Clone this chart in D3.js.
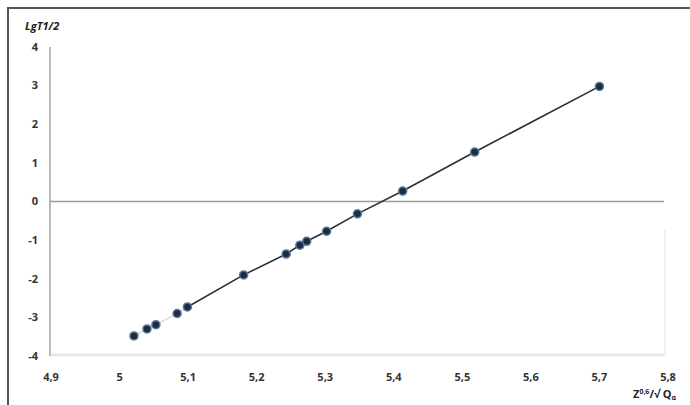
<!DOCTYPE html>
<meta charset="utf-8">
<style>
body { margin: 0; background: #fff; }
svg { font-family: "Open Sans", "Liberation Sans", sans-serif; font-weight: bold; }
.tick-label { font-size: 11px; fill: #333; }
</style>
<body>
<script src="https://cdn.jsdelivr.net/npm/d3@7"></script>
<script>

// data
var zValues = [5.021, 5.040, 5.053, 5.084, 5.099, 5.181, 5.243, 5.263, 5.273, 5.302, 5.347, 5.413, 5.518, 5.700];
var lgT     = [-3.48, -3.30, -3.19, -2.90, -2.73, -1.90, -1.36, -1.13, -1.03, -0.77, -0.32, 0.27, 1.28, 2.98];
var xTicks  = [4.9, 5.0, 5.1, 5.2, 5.3, 5.4, 5.5, 5.6, 5.7, 5.8];
var yTicks  = [-4, -3, -2, -1, 0, 1, 2, 3, 4];

var points = zValues.map(function(d, i) { return {x: d, y: lgT[i]}; });

var width = 690, height = 405;

var x = d3.scaleLinear().domain([4.9, 5.8]).range([51, 668]);
var y = d3.scaleLinear().domain([-4, 4]).range([356, 47]);

var svg = d3.select("body").append("svg")
    .attr("width", width)
    .attr("height", height);

// outer frame (top and left visible)
svg.append("path")
    .attr("d", "M8," + height + "V8H" + width)
    .attr("fill", "none")
    .attr("stroke", "#555")
    .attr("stroke-width", 2);

// soft plot area shadow, bottom and right
svg.append("path")
    .attr("d", "M" + x(4.9) + "," + (y(-4) - 1) + "H665")
    .attr("fill", "none")
    .attr("stroke", "#e8e8e8")
    .attr("stroke-width", 3);
svg.append("line")
    .attr("x1", 665).attr("x2", 665)
    .attr("y1", 230).attr("y2", y(-4))
    .attr("stroke", "#f1f1f1")
    .attr("stroke-width", 2);

// y axis line
svg.append("line")
    .attr("x1", 50).attr("x2", 50)
    .attr("y1", y(4)).attr("y2", y(-4))
    .attr("stroke", "#8a8a8a")
    .attr("stroke-width", 1.2);

// x axis at zero
svg.append("line")
    .attr("x1", 50).attr("x2", 664)
    .attr("y1", y(0)).attr("y2", y(0))
    .attr("stroke", "#9a9a9a")
    .attr("stroke-width", 1.5);

// y tick labels
svg.selectAll(".ylab")
    .data(yTicks)
  .enter().append("text")
    .attr("class", "tick-label")
    .attr("x", 38)
    .attr("y", function(d) { return y(d); })
    .attr("dy", "0.35em")
    .attr("text-anchor", "end")
    .text(function(d) { return d < 0 ? "-" + Math.abs(d) : d; });

// x tick labels (comma decimals)
svg.selectAll(".xlab")
    .data(xTicks)
  .enter().append("text")
    .attr("class", "tick-label")
    .attr("x", function(d) { return x(d); })
    .attr("y", 377)
    .attr("dy", "0.35em")
    .attr("text-anchor", "middle")
    .text(function(d) { return d3.format(".1~f")(d).replace(".", ","); });

// axis titles
svg.append("text")
    .attr("x", 25)
    .attr("y", 30)
    .style("font-size", "11px")
    .style("font-style", "italic")
    .attr("fill", "#222")
    .text("LgT1/2");

var xt = svg.append("text")
    .attr("x", 633)
    .attr("y", 398)
    .style("font-size", "11px")
    .attr("fill", "#222");
xt.append("tspan").text("Z");
xt.append("tspan").attr("dy", -4).style("font-size", "7px").text("0,6");
xt.append("tspan").attr("dy", 4).text("/\u221A Q");
xt.append("tspan").attr("dy", 2).style("font-size", "7px").text("\u03B1");

// connecting line
var line = d3.line()
    .x(function(d) { return x(d.x); })
    .y(function(d) { return y(d.y); });

svg.append("path")
    .datum(points.slice(0, 5))
    .attr("d", line)
    .attr("fill", "none")
    .attr("stroke", "#c8c8c8")
    .attr("stroke-width", 1);

svg.append("path")
    .datum(points.slice(4))
    .attr("d", line)
    .attr("fill", "none")
    .attr("stroke", "#2b2f36")
    .attr("stroke-width", 1.6);

// markers
svg.selectAll(".pt")
    .data(points)
  .enter().append("circle")
    .attr("cx", function(d) { return x(d.x); })
    .attr("cy", function(d) { return y(d.y); })
    .attr("r", 4)
    .attr("fill", "#1f2b3e")
    .attr("stroke", "#56769e")
    .attr("stroke-width", 1.5);

</script>
</body>
